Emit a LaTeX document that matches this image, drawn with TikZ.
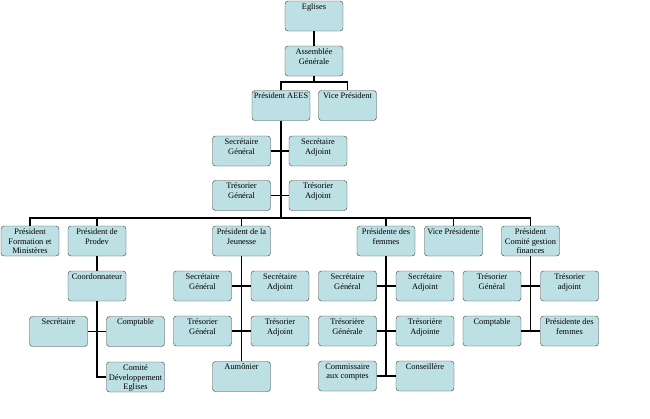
\documentclass[tikz,border=0pt]{standalone}
\usepackage{fontspec}
\setmainfont{Liberation Serif}
\usetikzlibrary{calc}
\definecolor{boxfill}{RGB}{188,224,228}
\definecolor{boxline}{RGB}{60,60,60}
\newcommand{\bxt}[1]{\parbox[t][25pt][t]{57pt}{\centering\fontsize{8.4}{9.8}\selectfont #1}}
\tikzset{
	orgbox/.style={draw=boxline, fill=boxfill, rounded corners=3pt, inner xsep=0.5pt, inner ysep=2.5pt, minimum width=58pt},
	link/.style={line width=1.6pt, black},
}

\begin{document}
\begin{tikzpicture}[x=1pt, y=-1pt]
\useasboundingbox (0,0) rectangle (650,418);
% top of the tree
\node[orgbox] (egl) at (314,16) {\bxt{Eglises}};
\node[orgbox] (ass) at (314,61) {\bxt{Assemblée\\Générale}};
\node[orgbox] (pres) at (281,105.5) {\bxt{Président AEES}};
\node[orgbox] (vp) at (347.5,105.5) {\bxt{Vice Président}};
\node[orgbox] (sg) at (241.5,151) {\bxt{Secrétaire\\Général}};
\node[orgbox] (sa) at (318,151) {\bxt{Secrétaire\\Adjoint}};
\node[orgbox] (tg) at (241.5,195.5) {\bxt{Trésorier\\Général}};
\node[orgbox] (ta) at (318,195.5) {\bxt{Trésorier\\Adjoint}};
% second row
\node[orgbox] (form) at (30,241) {\bxt{Président\\Formation et\\Ministères}};
\node[orgbox] (prodev) at (97,241) {\bxt{Président de\\Prodev}};
\node[orgbox] (jeun) at (241.5,241) {\bxt{Président de la\\Jeunesse}};
\node[orgbox] (fem) at (386,241) {\bxt{Présidente des\\femmes}};
\node[orgbox] (vpf) at (453.5,241) {\bxt{Vice Présidente}};
\node[orgbox] (fin) at (530.5,241) {\bxt{Président\\Comité gestion\\finances}};
% Prodev
\node[orgbox] (coord) at (97,286) {\bxt{Coordonnateur}};
\node[orgbox] (sec) at (58.5,331.5) {\bxt{Secrétaire}};
\node[orgbox] (compt) at (135.5,331.5) {\bxt{Comptable}};
\node[orgbox] (comite) at (135.5,377) {\bxt{Comité\\Développement\\Eglises}};
% Jeunesse
\node[orgbox] (jsg) at (202.5,286) {\bxt{Secrétaire\\Général}};
\node[orgbox] (jsa) at (280,286) {\bxt{Secrétaire\\Adjoint}};
\node[orgbox] (jtg) at (202.5,331) {\bxt{Trésorier\\Général}};
\node[orgbox] (jta) at (280,331) {\bxt{Trésorier\\Adjoint}};
\node[orgbox] (aum) at (241.5,376.5) {\bxt{Aumônier}};
% femmes
\node[orgbox] (fsg) at (347.5,286) {\bxt{Secrétaire\\Général}};
\node[orgbox] (fsa) at (425,286) {\bxt{Secrétaire\\Adjoint}};
\node[orgbox] (ftg) at (347.5,331) {\bxt{Trésorière\\Générale}};
\node[orgbox] (fta) at (425,331) {\bxt{Trésorière\\Adjointe}};
\node[orgbox] (fcc) at (347.5,376) {\bxt{Commissaire\\aux comptes}};
\node[orgbox] (fco) at (425,376) {\bxt{Conseillère}};
% finances
\node[orgbox] (gtg) at (492,286) {\bxt{Trésorier\\Général}};
\node[orgbox] (gta) at (569.5,286) {\bxt{Trésorier\\adjoint}};
\node[orgbox] (gco) at (492,331) {\bxt{Comptable}};
\node[orgbox] (gpf) at (569.5,331) {\bxt{Présidente des\\femmes}};

% links
\coordinate (b1) at ($(ass.south)+(0,6)$);
\coordinate (b2) at (pres.south |- 0,218);
\draw[link] (egl) -- (ass);
\draw[link] (ass.south) -- (b1);
\draw[link] (pres.north) |- (b1) -| (vp.north);
\draw[link] (pres.south) -- (b2);
\draw[link] (sg) -- (sa);
\draw[link] (tg) -- (ta);
\draw[link] (form.north) |- (b2) -| (fin.north);
\foreach \n in {prodev,jeun,fem,vpf}
	\draw[link] (\n.north) -- (\n.north |- b2);
\draw[link] (prodev) -- (coord);
\draw[link] (coord.south) |- (comite.west);
\draw[link] (sec) -- (compt);
\draw[link] (jeun) -- (aum);
\draw[link] (jsg) -- (jsa);
\draw[link] (jtg) -- (jta);
\draw[link] (fem.south) -- (fem.south |- fcc.east);
\draw[link] (fsg) -- (fsa);
\draw[link] (ftg) -- (fta);
\draw[link] (fcc) -- (fco);
\draw[link] (fin.south) -- (fin.south |- gco.east);
\draw[link] (gtg) -- (gta);
\draw[link] (gco) -- (gpf);
\end{tikzpicture}
\end{document}
